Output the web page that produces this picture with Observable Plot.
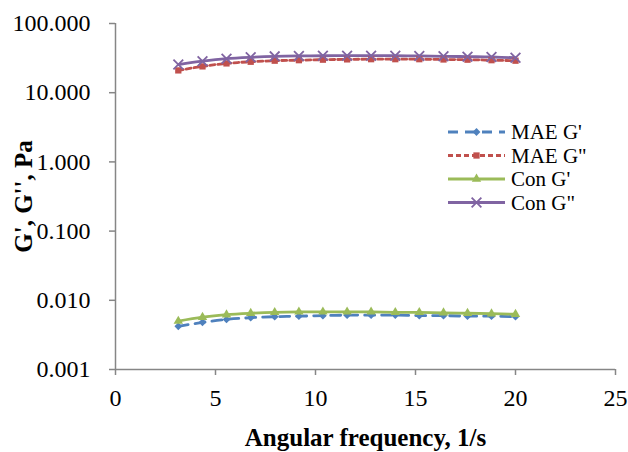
<!DOCTYPE html>
<html>
<head>
<meta charset="utf-8">
<script src="https://cdn.jsdelivr.net/npm/d3@7"></script>
<script src="https://cdn.jsdelivr.net/npm/@observablehq/plot@0.6"></script>
<style>
  html, body { margin: 0; padding: 0; background: #fff; }
  #wrap { position: relative; width: 628px; height: 452px; }
  [aria-label="x-axis label"] text, [aria-label="y-axis label"] text { font-weight: bold; font-size: 25px; }
  #legend { position: absolute; left: 0; top: 0; }
</style>
</head>
<body>
<div id="wrap"></div>
<script>
// Angular frequency (1/s)
const freq = [3.14, 4.35, 5.55, 6.76, 7.96, 9.17, 10.37, 11.58, 12.78, 13.99, 15.19, 16.40, 17.60, 18.80, 20.00];
// Moduli (Pa)
const maeGp  = [0.0042, 0.0048, 0.0053, 0.0056, 0.0058, 0.0059, 0.0060, 0.0061, 0.0061, 0.0061, 0.0060, 0.0060, 0.0059, 0.0059, 0.0058];
const maeGpp = [21.0, 24.0, 26.5, 28.0, 29.0, 29.5, 30.0, 30.3, 30.5, 30.5, 30.5, 30.2, 30.0, 29.5, 29.0];
const conGp  = [0.0050, 0.0057, 0.0062, 0.0065, 0.0067, 0.0068, 0.0068, 0.0068, 0.0068, 0.0067, 0.0067, 0.0066, 0.0065, 0.0064, 0.0063];
const conGpp = [25.5, 28.5, 31.0, 32.5, 33.5, 34.0, 34.2, 34.3, 34.3, 34.2, 34.0, 33.6, 33.2, 32.8, 32.0];

const seriesNames = ["MAE G'", "MAE G\"", "Con G'", "Con G\""];
const xTicks = [0, 5, 10, 15, 20, 25];
const yTicks = [0.001, 0.01, 0.1, 1, 10, 100];

const styles = {
  "MAE G'":  {color: "#4F81BD", dash: "10,7", symbol: "diamond2", r: 3.5},
  "MAE G\"": {color: "#C0504D", dash: "5,3",  symbol: "square2",  r: 4},
  "Con G'":  {color: "#9BBB59", dash: null,   symbol: "triangle2", r: 4.5},
  "Con G\"": {color: "#8064A2", dash: null,   symbol: "times",    r: 4.5}
};
const valuesBy = [maeGp, maeGpp, conGp, conGpp];
const data = seriesNames.map((name, i) => freq.map((f, j) => ({name, f, v: valuesBy[i][j]})));

const axisColor = "#868686";
const font = "'Liberation Serif', 'Times New Roman', serif";

const marks = [
  Plot.ruleY([0.001], {stroke: axisColor, strokeWidth: 1.5}),
  Plot.ruleX([0], {stroke: axisColor, strokeWidth: 1.5}),
  Plot.axisX({ticks: xTicks, tickSize: 6, tickPadding: 13, stroke: axisColor, strokeWidth: 1.5, fontSize: 24,
    label: "Angular frequency, 1/s", labelAnchor: "center", labelOffset: 76, labelArrow: "none"}),
  Plot.axisY({ticks: yTicks, tickSize: 6, tickPadding: 19, stroke: axisColor, strokeWidth: 1.5, fontSize: 24,
    tickFormat: d => d.toFixed(3),
    label: "G', G'', Pa", labelAnchor: "center", labelOffset: 101, labelArrow: "none"})
];
const drawOrder = ["MAE G\"", "Con G\"", "MAE G'", "Con G'"];
for (const name of drawOrder) {
  const i = seriesNames.indexOf(name);
  const s = styles[name];
  marks.push(Plot.line(data[i], {x: "f", y: "v", stroke: s.color, strokeWidth: 2.8, strokeDasharray: s.dash, curve: "catmull-rom"}));
}
for (const name of drawOrder) {
  const i = seriesNames.indexOf(name);
  const s = styles[name];
  if (s.symbol === "times") {
    marks.push(Plot.dot(data[i], {x: "f", y: "v", symbol: "times", r: s.r, stroke: s.color, strokeWidth: 1.8}));
  } else {
    marks.push(Plot.dot(data[i], {x: "f", y: "v", symbol: s.symbol, r: s.r, fill: s.color, stroke: "none"}));
  }
}

const chart = Plot.plot({
  width: 628, height: 452,
  marginLeft: 115, marginRight: 13, marginTop: 23, marginBottom: 83,
  style: {fontFamily: font, fontSize: "24px", color: "#000", background: "#fff", overflow: "visible"},
  x: {domain: [0, 25]},
  y: {type: "log", domain: [0.001, 100]},
  marks
});
document.getElementById("wrap").appendChild(chart);

// Legend
const legend = d3.select("#wrap").append("svg").attr("id", "legend").attr("width", 628).attr("height", 452);
const lx0 = 448, lx1 = 505, ltext = 511, ly0 = 132, ldy = 23.5;
seriesNames.forEach((name, k) => {
  const s = styles[name];
  const y = ly0 + k * ldy;
  legend.append("line").attr("x1", lx0).attr("x2", lx1).attr("y1", y).attr("y2", y)
    .attr("stroke", s.color).attr("stroke-width", 2.8).attr("stroke-dasharray", s.dash);
  const sym = {"diamond2": d3.symbolDiamond2, "square2": d3.symbolSquare2, "triangle2": d3.symbolTriangle2, "times": d3.symbolTimes}[s.symbol];
  const path = d3.symbol(sym, Math.PI * s.r * s.r)();
  const g = legend.append("path").attr("d", path).attr("transform", `translate(${(lx0 + lx1) / 2},${y})`);
  if (s.symbol === "times") g.attr("fill", "none").attr("stroke", s.color).attr("stroke-width", 1.8);
  else g.attr("fill", s.color);
  legend.append("text").attr("x", ltext).attr("y", y).attr("dy", "0.35em")
    .attr("font-family", font).attr("font-size", 21).text(name);
});
</script>
</body>
</html>
